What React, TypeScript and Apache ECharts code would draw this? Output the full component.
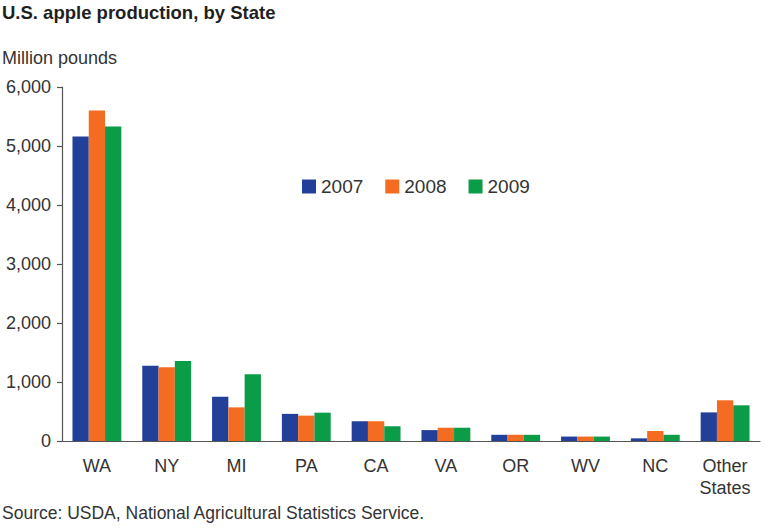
import React, { useEffect, useRef } from "react";
import * as echarts from "echarts";

const categories = ["WA", "NY", "MI", "PA", "CA", "VA", "OR", "WV", "NC", "Other\nStates"];
const seriesNames = ["2007", "2008", "2009"];
const values2007 = [5160, 1275, 750, 460, 335, 185, 105, 75, 45, 485];
const values2008 = [5600, 1250, 570, 430, 335, 225, 105, 75, 170, 690];
const values2009 = [5330, 1355, 1130, 480, 250, 225, 105, 75, 105, 605];
const yTicks = [0, 1000, 2000, 3000, 4000, 5000, 6000];
const colors = ["#22409a", "#f36c21", "#0b9c48"];

const FONT = "'Liberation Sans', Arial, Helvetica, sans-serif";

export default function App() {
  const ref = useRef<HTMLDivElement>(null);
  useEffect(() => {
    if (!ref.current) return;
    const chart = echarts.init(ref.current, null, { renderer: "svg" });
    const data = [values2007, values2008, values2009];
    chart.setOption({
      animation: false,
      textStyle: { fontFamily: FONT },
      color: colors,
      grid: { left: 62, right: 8, top: 87, bottom: 91, containLabel: false },
      legend: {
        left: 297,
        top: 172,
        itemWidth: 14,
        itemHeight: 14,
        itemGap: 22,
        icon: "rect",
        textStyle: { fontSize: 19, color: "#333", fontFamily: FONT },
        data: seriesNames,
      },
      xAxis: {
        type: "category",
        data: categories,
        axisLine: { show: true, lineStyle: { color: "#555", width: 1.2 } },
        axisTick: { show: false },
        axisLabel: {
          fontSize: 18,
          color: "#333",
          margin: 14,
          lineHeight: 22,
          fontFamily: FONT,
          interval: 0,
        },
      },
      yAxis: {
        type: "value",
        min: 0,
        max: 6000,
        interval: 1000,
        splitLine: { show: false },
        axisLine: { show: true, lineStyle: { color: "#555", width: 1.2 } },
        axisTick: { show: true, length: 5, lineStyle: { color: "#555", width: 1.2 } },
        axisLabel: {
          fontSize: 18,
          color: "#333",
          margin: 11,
          fontFamily: FONT,
          formatter: (v: number) => (yTicks.includes(v) ? v.toLocaleString("en-US") : ""),
        },
      },
      series: seriesNames.map((name, i) => ({
        name,
        type: "bar",
        data: data[i],
        barGap: "0%",
        barCategoryGap: "30%",
        itemStyle: { color: colors[i] },
      })),
      graphic: [
        {
          type: "text",
          left: 2,
          top: 3,
          style: {
            text: "U.S. apple production, by State",
            fontSize: 18.5,
            fontWeight: "bold",
            fill: "#1f1f1f",
            fontFamily: FONT,
          },
        },
        {
          type: "text",
          left: 2,
          top: 49,
          style: {
            text: "Million pounds",
            fontSize: 18,
            fill: "#333",
            fontFamily: FONT,
          },
        },
        {
          type: "text",
          left: 2,
          top: 504,
          style: {
            text: "Source: USDA, National Agricultural Statistics Service.",
            fontSize: 17.5,
            fill: "#333",
            fontFamily: FONT,
          },
        },
      ],
    });
    return () => chart.dispose();
  }, []);
  return <div ref={ref} style={{ width: 768, height: 532, position: "absolute", left: 0, top: 0 }} />;
}
